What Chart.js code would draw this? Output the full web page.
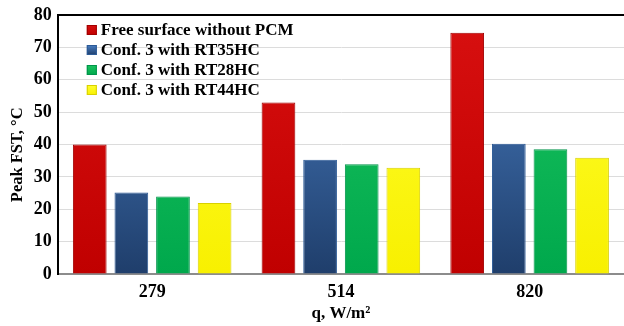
<!DOCTYPE html>
<html>
<head>
<meta charset="utf-8">
<script src="https://cdn.jsdelivr.net/npm/chart.js@4.4.1/dist/chart.umd.min.js"></script>
<style>
  html, body { margin: 0; padding: 0; background: #fff; }
  #wrap { width: 624px; height: 326px; overflow: hidden; }
</style>
</head>
<body>
<div id="wrap"><canvas id="fstChart"></canvas></div>
<script>
const categories = ["279", "514", "820"];
const freeSurface = [40, 53, 74.5];
const rt35 = [25.2, 35.3, 40.2];
const rt28 = [23.9, 33.9, 38.5];
const rt44 = [21.9, 32.8, 35.9];
const yTicks = [0, 10, 20, 30, 40, 50, 60, 70, 80];

const serif = "'Liberation Serif', 'Times New Roman', serif";

// top colour, bottom colour, edge colour
const palette = {
  red: ["#D81010", "#C00000", "#A00000"],
  blue: ["#4A7FC4", "#1F3E6B", "#2C5A96"],
  green: ["#1CC460", "#00A84C", "#00934A"],
  yellow: ["#FFFF30", "#F8F000", "#D8D000"],
};

function grad(name) {
  return (ctx) => {
    const area = ctx.chart.chartArea;
    if (!area) return palette[name][1];
    const g = ctx.chart.ctx.createLinearGradient(0, area.top, 0, area.bottom);
    g.addColorStop(0, palette[name][0]);
    g.addColorStop(1, palette[name][1]);
    return g;
  };
}

const series = [
  { label: "Free surface without PCM", data: freeSurface, color: "red" },
  { label: "Conf. 3 with RT35HC", data: rt35, color: "blue" },
  { label: "Conf. 3 with RT28HC", data: rt28, color: "green" },
  { label: "Conf. 3 with RT44HC", data: rt44, color: "yellow" },
];

// legend drawn inside the plot, top left
const insideLegend = {
  id: "insideLegend",
  afterDraw(chart) {
    const { ctx, chartArea } = chart;
    ctx.save();
    ctx.font = "bold 17px " + serif;
    ctx.textBaseline = "middle";
    series.forEach((s, i) => {
      const y = chartArea.top + 15 + i * 20;
      const x = chartArea.left + 29;
      const g = ctx.createLinearGradient(0, y - 5, 0, y + 5);
      g.addColorStop(0, palette[s.color][0]);
      g.addColorStop(1, palette[s.color][1]);
      ctx.fillStyle = g;
      ctx.fillRect(x, y - 5, 10, 10);
      ctx.strokeStyle = palette[s.color][2];
      ctx.lineWidth = 1;
      ctx.strokeRect(x + 0.5, y - 4.5, 9, 9);
      ctx.fillStyle = "#000";
      ctx.fillText(s.label, x + 14, y + 1);
    });
    ctx.restore();
  },
};

new Chart(document.getElementById("fstChart"), {
  type: "bar",
  data: {
    labels: categories,
    datasets: series.map((s) => ({
      label: s.label,
      data: s.data,
      backgroundColor: grad(s.color),
      borderColor: palette[s.color][2],
      borderWidth: 1,
      categoryPercentage: 0.882,
      barPercentage: 0.81,
    })),
  },
  options: {
    responsive: true,
    maintainAspectRatio: false,
    animation: false,
    layout: { padding: { top: 0, right: -9, left: 8, bottom: 4 } },
    plugins: {
      legend: { display: false },
      tooltip: { enabled: false },
    },
    scales: {
      x: {
        grid: { display: false, drawTicks: false },
        border: { display: true, color: "#8C8C8C", width: 2 },
        ticks: { color: "#000", font: { family: serif, size: 18, weight: "bold", lineHeight: 1 }, padding: 9 },
        title: {
          display: true,
          text: "q, W/m²",
          color: "#000",
          font: { family: serif, size: 17, weight: "bold", lineHeight: 1 },
          padding: { top: -5, bottom: 0 },
        },
      },
      y: {
        min: 0,
        max: 80,
        afterBuildTicks: (axis) => {
          axis.ticks = yTicks.map((v) => ({ value: v }));
        },
        grid: {
          color: (c) => (c.tick && c.tick.value === 80 ? "#000" : "#DCDCDC"),
          lineWidth: (c) => (c.tick && c.tick.value === 80 ? 2 : 1),
          drawTicks: false,
        },
        border: { display: true, color: "#000", width: 2 },
        ticks: { color: "#000", font: { family: serif, size: 18, weight: "bold", lineHeight: 1 }, padding: 6 },
        title: {
          display: true,
          text: "Peak FST, °C\u00A0\u00A0\u00A0\u00A0\u00A0",
          color: "#000",
          font: { family: serif, size: 16.5, weight: "bold" },
          padding: { top: 0, bottom: 0 },
        },
      },
    },
  },
  plugins: [insideLegend],
});
</script>
</body>
</html>
